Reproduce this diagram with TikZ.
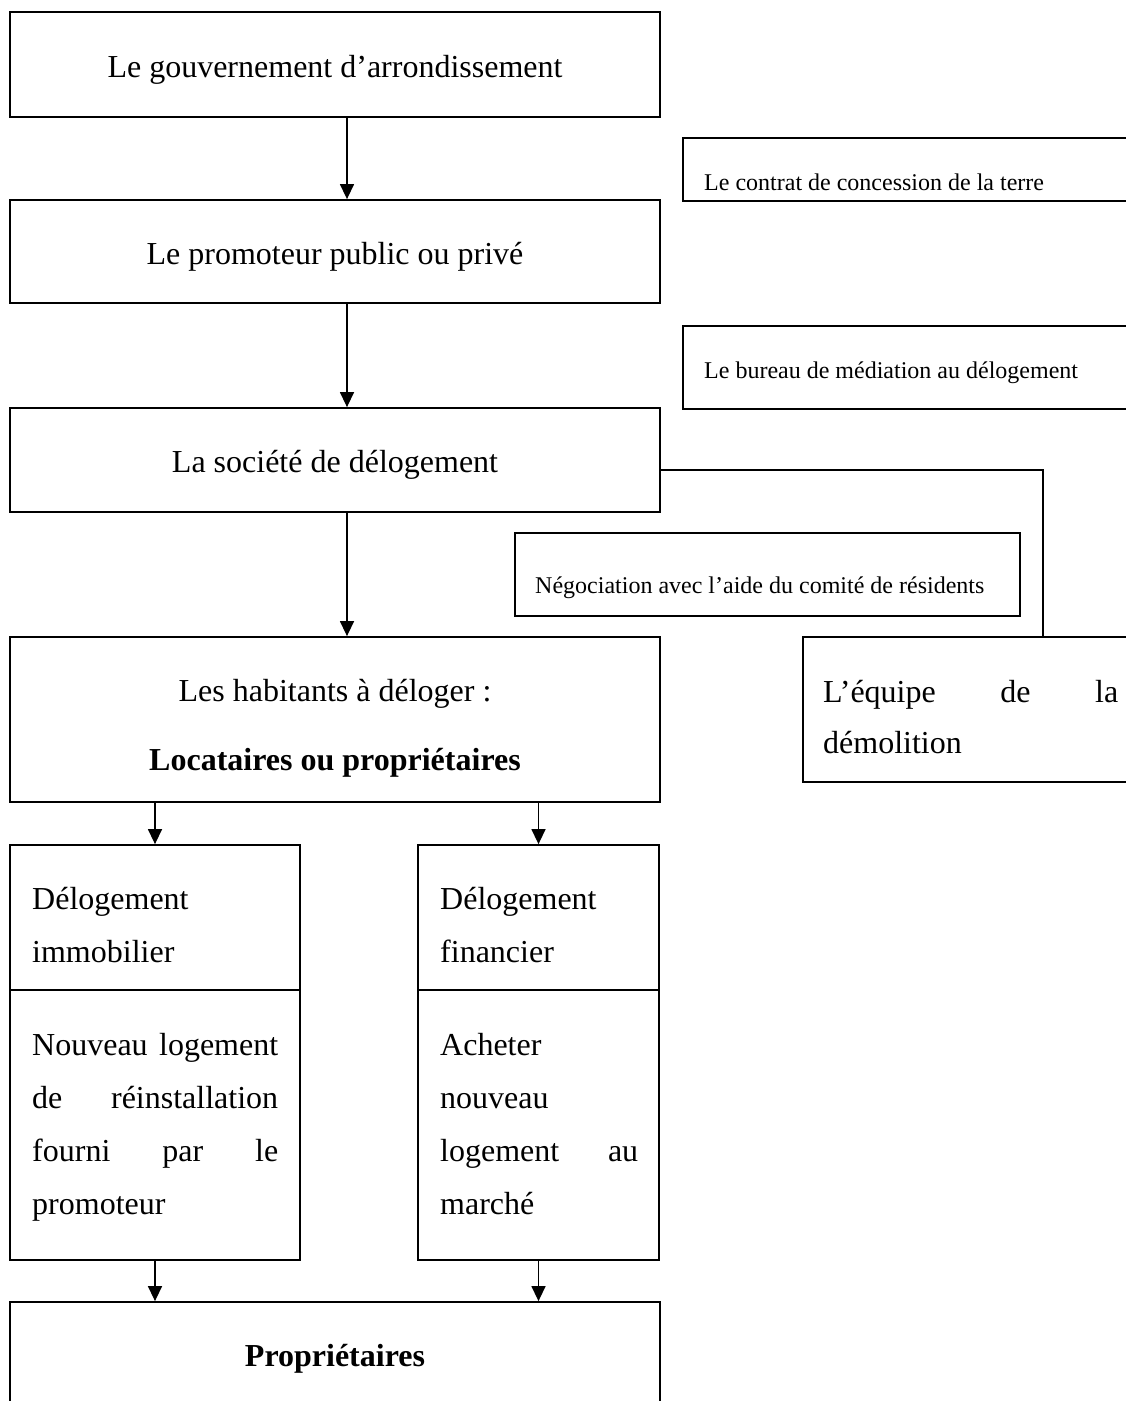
\documentclass[tikz,border=0pt]{standalone}
\usepackage{fontspec}
\setmainfont{Liberation Serif}
\usetikzlibrary{arrows.meta}
\newcommand\fbig{\fontsize{32}{38}\selectfont}
\newcommand\fsmall{\fontsize{24}{29}\selectfont}
\tikzset{
  box/.style={draw, line width=1.8pt, rectangle, inner sep=0pt},
  txt/.style={inner sep=0pt, font=\fbig},
  stxt/.style={inner sep=0pt, font=\fsmall},
  arr/.style={line width=1.4pt, -{Triangle[length=15pt,width=14pt]}},
  conn/.style={line width=1.4pt}
}
\newcommand\tline[5][txt]{\node[#1] (#2) at (#3,#4) {#5};}
\begin{document}
\begin{tikzpicture}[x=1pt,y=-1pt]
\clip (0,0) rectangle (1126,1401);
\fill[white] (0,0) rectangle (1126,1401);

% main column boxes
\node[box, minimum width=650pt, minimum height=105pt] (gov) at (335,64.5) {};
\node[box, minimum width=650pt, minimum height=103pt] (prom) at (335,251.5) {};
\node[box, minimum width=650pt, minimum height=104pt] (soc) at (335,460) {};
\node[box, minimum width=650pt, minimum height=165pt] (hab) at (335,719.5) {};
\node[box, minimum width=290pt, minimum height=145pt] (immoA) at (155,917.5) {};
\node[box, minimum width=290pt, minimum height=270pt] (immoB) at (155,1125) {};
\node[box, minimum width=241pt, minimum height=145pt] (finA) at (538.5,917.5) {};
\node[box, minimum width=241pt, minimum height=270pt] (finB) at (538.5,1125) {};
\node[box, minimum width=650pt, minimum height=130pt] (prop) at (335,1367) {};

% side boxes
\node[box, minimum width=460pt, minimum height=63pt] (contrat) at (913,169.5) {};
\node[box, minimum width=460pt, minimum height=83pt] (bureau) at (913,367.5) {};
\node[box, minimum width=505pt, minimum height=83pt] (nego) at (767.5,574.5) {};
\node[box, minimum width=340pt, minimum height=145pt] (equipe) at (973,709.5) {};

% texts
\node[txt, anchor=base] (tgov) at (335,77) {Le gouvernement d’arrondissement};
\node[txt, anchor=base] (tprom) at (335,264) {Le promoteur public ou privé};
\node[txt, anchor=base] (tsoc) at (335,472) {La société de délogement};
\node[txt, anchor=base] (thab1) at (335,701) {Les habitants à déloger :};
\node[txt, anchor=base] (thab2) at (335,770) {\bfseries Locataires ou propriétaires};
\node[txt, anchor=base] (tprop) at (335,1366) {\bfseries Propriétaires};

\node[stxt, anchor=base west] (tcontrat) at (704,190) {Le contrat de concession de la terre};
\node[stxt, anchor=base west] (tbureau) at (704,378) {Le bureau de médiation au délogement};
\node[stxt, anchor=base west] (tnego) at (535,593) {Négociation avec l’aide du comité de résidents};

\node[txt, anchor=base west] (ti1) at (32,909) {Délogement};
\node[txt, anchor=base west] (ti2) at (32,962) {immobilier};
\node[txt, anchor=base west] (tf1) at (440,909) {Délogement};
\node[txt, anchor=base west] (tf2) at (440,962) {financier};

\node[txt, anchor=base west] (tn1) at (32,1055) {\hbox to 246pt{Nouveau\hfill logement}};
\node[txt, anchor=base west] (tn2) at (32,1108) {\hbox to 246pt{de\hfill réinstallation}};
\node[txt, anchor=base west] (tn3) at (32,1161) {\hbox to 246pt{fourni\hfill par\hfill le}};
\node[txt, anchor=base west] (tn4) at (32,1214) {promoteur};

\node[txt, anchor=base west] (ta1) at (440,1055) {Acheter};
\node[txt, anchor=base west] (ta2) at (440,1108) {nouveau};
\node[txt, anchor=base west] (ta3) at (440,1161) {\hbox to 198pt{logement\hfill au}};
\node[txt, anchor=base west] (ta4) at (440,1214) {marché};

\node[txt, anchor=base west] (te1) at (823,702) {\hbox to 295pt{L’équipe\hfill de\hfill la}};
\node[txt, anchor=base west] (te2) at (823,753) {démolition};

% connectors
\draw[arr] ([xshift=12pt]gov.south) -- ([xshift=12pt]prom.north);
\draw[arr] ([xshift=12pt]prom.south) -- ([xshift=12pt]soc.north);
\draw[arr] ([xshift=12pt]soc.south) -- ([xshift=12pt]hab.north);
\draw[arr] (hab.south -| immoA.north) -- (immoA.north);
\draw[arr] (hab.south -| finA.north) -- (finA.north);
\draw[arr] (immoB.south) -- (immoB.south |- prop.north);
\draw[arr] (finB.south) -- (finB.south |- prop.north);
\coordinate (kx) at (1043,0);
\draw[conn] ([yshift=-10pt]soc.east) -| (equipe.north -| kx);
\end{tikzpicture}
\end{document}
